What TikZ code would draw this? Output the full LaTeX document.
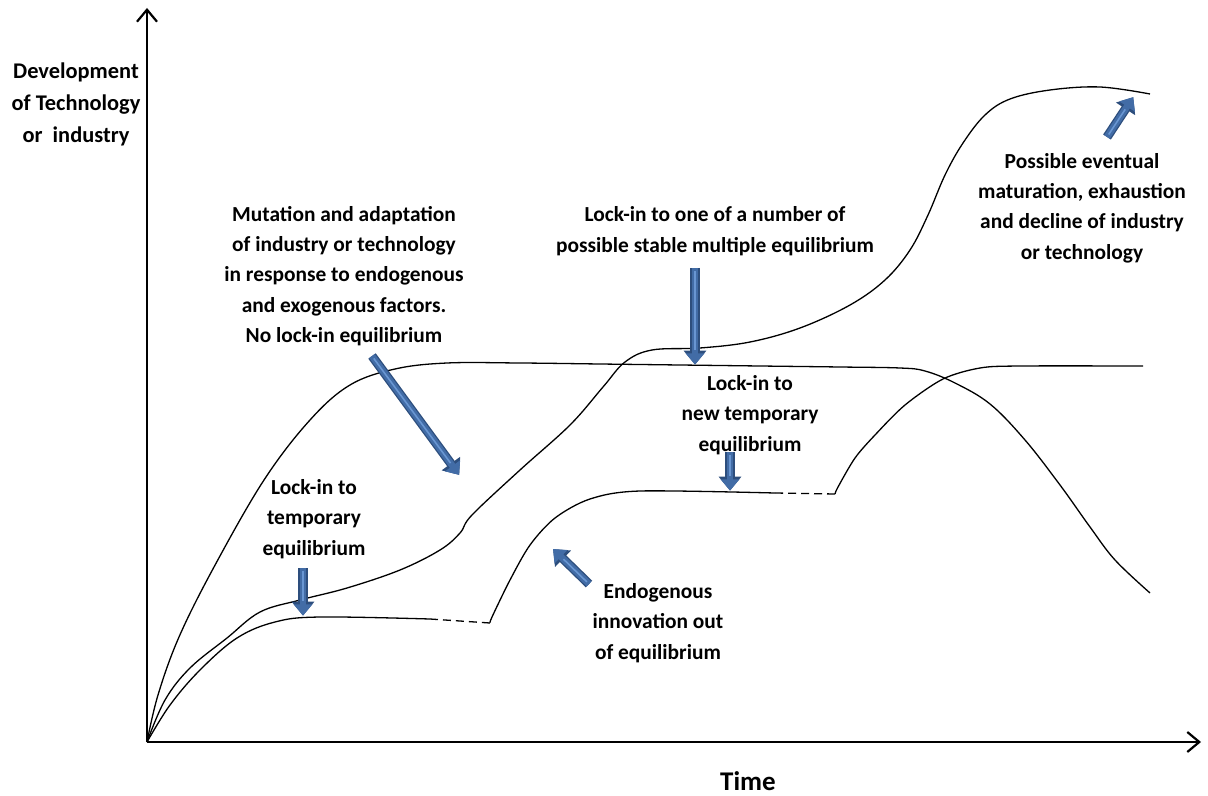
\documentclass[tikz,border=0pt]{standalone}
\usepackage{fontspec}
\setmainfont{Carlito}
\usetikzlibrary{arrows.meta,positioning}

\definecolor{arrowblue}{RGB}{66,108,166}
\definecolor{arrowedge}{RGB}{45,78,125}
\definecolor{arrowlight}{RGB}{105,150,210}

\begin{document}
\begin{tikzpicture}[x=0.5pt, y=-0.5pt,
    axis/.style={line width=1.1pt, -{Straight Barb[length=6pt,width=10pt,line width=1.1pt]}},
    curve/.style={line width=0.65pt},
    gap/.style={line width=0.65pt, dash pattern=on 4pt off 2.5pt},
    label/.style={align=center, font=\bfseries\fontsize{10.7}{15.2}\selectfont},
    blockarrow/.style={
        preaction={draw=arrowedge, line width=4.6pt, -{Triangle[width=11pt,length=7pt]}},
        draw=arrowblue, line width=3.3pt, -{Triangle[width=9pt,length=5.6pt]}, shorten >=0.7pt,
        postaction={draw=arrowlight, line width=0.8pt, -, shorten >=8pt, shorten <=1.5pt}}
]
\useasboundingbox (0,0) rectangle (1208,796);

% Axes
\coordinate (origin) at (147,742);
\coordinate (ytip) at (147,8);
\coordinate (xtip) at (1201,742);
\draw[axis] (origin) -- (ytip);
\draw[axis] (origin) -- (xtip);

% Axis labels
\node[label, font=\bfseries\fontsize{11.2}{16}\selectfont] (ylabel) at (76,104) {Development\\of Technology\\or\ \ industry};
\node[label, inner sep=0pt, font=\bfseries\fontsize{13.5}{15}\selectfont] (time) at (748,781) {Time};

% Curve without lock-in
\draw[curve] plot[smooth, tension=0.6] coordinates {(147,742) (158,695) (179,637) (214,567)
    (264,480) (310,420) (350,385) (395,369) (447,363) (520,363) (600,364) (680,365)
    (760,366) (840,367) (900,368) (925,371) (955,383) (990,404) (1025,440) (1060,485)
    (1090,527) (1115,560) (1150,593)};

% Curve with multiple equilibrium
\draw[curve] plot[smooth, tension=0.6] coordinates {(147,742) (165,700) (190,668) (227,638)
    (260,612) (300,600) (347,588) (400,570) (440,550) (460,533) (472,515) (520,470)
    (570,425) (603,387) (625,362) (652,350) (700,348) (750,342) (800,328) (850,305)
    (885,280) (910,250) (928,215) (945,175) (963,143) (985,115) (1010,99) (1050,90)
    (1100,87) (1150,94)};

% Curve with temporary equilibria
\draw[curve] plot[smooth, tension=0.6] coordinates {(147,742) (170,705) (200,670) (237,638)
    (275,622) (320,617) (430,619)};
\draw[gap] (430,619) -- (490,623);
\draw[curve] plot[smooth, tension=0.5] coordinates {(490,623) (492,617) (510,580) (530,545)
    (555,518) (590,499) (640,491) (775,493)};
\draw[gap] (775,493) -- (835,494);
\draw[curve] plot[smooth, tension=0.5] coordinates {(835,494) (838,487) (855,458) (875,435)
    (905,405) (943,379) (980,368) (1020,366) (1143,366)};

% Labels
\node[label] (mutation) at (344,276) {Mutation and adaptation\\of industry or technology\\in response to endogenous\\and exogenous factors.\\No lock-in equilibrium};
\node[label] (lockmulti) at (715,231) {Lock-in to one of a number of\\possible stable multiple equilibrium};
\node[label] (decline) at (1082,208) {Possible eventual\\maturation, exhaustion\\and decline of industry\\or technology};
\node[label] (locknew) at (750,415) {Lock-in to\\new temporary\\equilibrium};
\node[label] (locktemp) at (314,519) {Lock-in to\\temporary\\equilibrium};
\node[label] (endog) at (658,623) {Endogenous\\innovation out\\of equilibrium};

% Block arrows
\coordinate (a1s) at (303,568); \coordinate (a1e) at (303,617);
\coordinate (a2s) at (372,356); \coordinate (a2e) at (460,476);
\coordinate (a3s) at (589,584); \coordinate (a3e) at (552,548);
\coordinate (a4s) at (695,268); \coordinate (a4e) at (695,366);
\coordinate (a5s) at (730,452); \coordinate (a5e) at (730,492);
\coordinate (a6s) at (1107,137); \coordinate (a6e) at (1134,96);
\draw[blockarrow] (a1s) -- (a1e);
\draw[blockarrow] (a2s) -- (a2e);
\draw[blockarrow] (a3s) -- (a3e);
\draw[blockarrow] (a4s) -- (a4e);
\draw[blockarrow] (a5s) -- (a5e);
\draw[blockarrow] (a6s) -- (a6e);

\end{tikzpicture}
\end{document}
